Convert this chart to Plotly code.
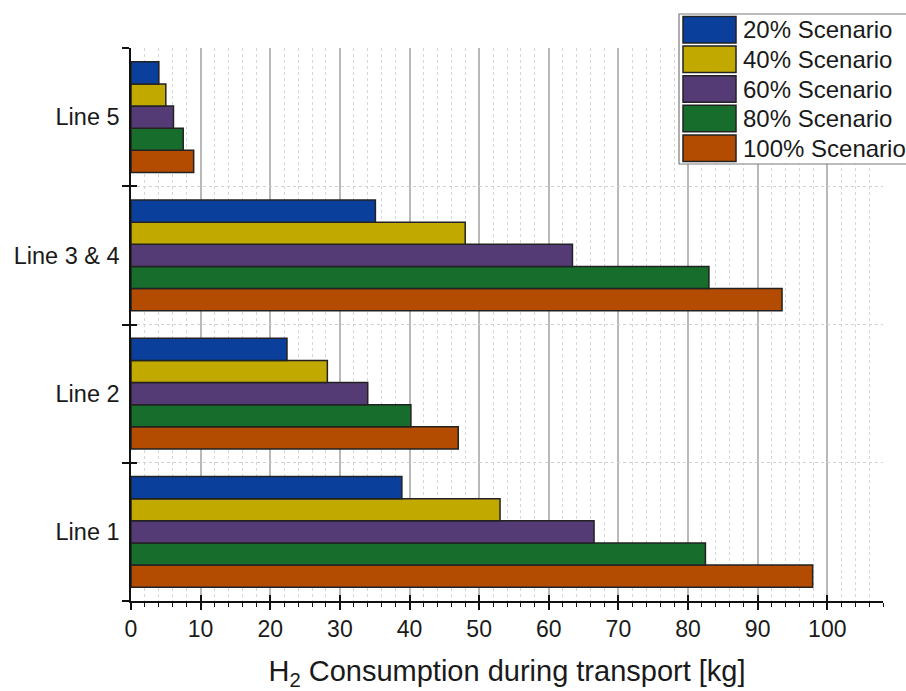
import plotly.graph_objects as go

# Transport lines (bottom to top)
lines = ["Line 1", "Line 2", "Line 3 & 4", "Line 5"]

# H2 consumption [kg] per scenario, ordered like `lines`
scenario_names = ["20% Scenario", "40% Scenario", "60% Scenario", "80% Scenario", "100% Scenario"]
s20 = [38.9, 22.4, 35.1, 4.0]
s40 = [53.0, 28.2, 48.0, 5.0]
s60 = [66.5, 34.0, 63.4, 6.1]
s80 = [82.5, 40.2, 83.0, 7.5]
s100 = [97.9, 47.0, 93.5, 9.0]
scenario_values = [s20, s40, s60, s80, s100]
scenario_colors = ["#0a3f9c", "#c2a900", "#553b75", "#166d2c", "#b34b00"]

x_ticks = list(range(0, 101, 10))

W, H = 906, 691
L, R, T, B = 131, 23, 48, 90
FONT = "Liberation Sans, Arial, sans-serif"
INK = "#1a1a1a"

fig = go.Figure()

# Add in reverse so the 20% bar sits on top within each group
for name, vals, col in reversed(list(zip(scenario_names, scenario_values, scenario_colors))):
    fig.add_trace(go.Bar(
        y=lines, x=vals, name=name, orientation="h",
        marker=dict(color=col, line=dict(color="#222222", width=1.5)),
        showlegend=False,
    ))

# Invisible trace to anchor the overlay axes used for crossing tick marks
fig.add_trace(go.Scatter(x=[0], y=[0], xaxis="x2", yaxis="y2", mode="markers",
                         marker=dict(opacity=0), showlegend=False, hoverinfo="skip"))

fig.update_layout(
    width=W, height=H,
    margin=dict(l=L, r=R, t=T, b=B, autoexpand=False),
    paper_bgcolor="white", plot_bgcolor="white",
    barmode="group", bargap=0.2, bargroupgap=0,
    font=dict(family=FONT, color=INK, size=23),
    xaxis=dict(
        range=[0, 108], tickvals=x_ticks, ticktext=[str(v) for v in x_ticks],
        showline=True, linecolor="#111111", linewidth=1.5,
        ticks="outside", ticklen=7, tickwidth=1.5, tickcolor="#111111",
        tickfont=dict(size=23, family=FONT, color=INK),
        showgrid=True, gridcolor="#b9b9b9", gridwidth=1.5,
        zeroline=False,
        minor=dict(dtick=2, tick0=0, ticks="outside", ticklen=4, tickwidth=1.2,
                   tickcolor="#111111", showgrid=True, gridcolor="#d6d6d6",
                   griddash="dot", gridwidth=1),
        title=dict(text="H<sub>2</sub> Consumption during transport [kg]",
                   font=dict(size=29, family=FONT, color=INK), standoff=20),
        automargin=False,
    ),
    yaxis=dict(
        categoryorder="array", categoryarray=lines,
        range=[-0.5, 3.5],
        showline=True, linecolor="#111111", linewidth=1.5,
        tickson="boundaries", ticks="outside", ticklen=7, tickwidth=1.5,
        tickcolor="#111111",
        tickfont=dict(size=23.5, family=FONT, color=INK),
        showgrid=True, gridcolor="#d0d0d0", griddash="dot", gridwidth=1,
        zeroline=False, automargin=False, ticklabelstandoff=5,
    ),
    xaxis2=dict(
        overlaying="x", anchor="y2", side="bottom", range=[0, 108],
        tickvals=x_ticks, showticklabels=False, ticks="inside", ticklen=6,
        tickwidth=1.5, tickcolor="#111111", showgrid=False, zeroline=False,
        showline=False,
    ),
    yaxis2=dict(
        overlaying="y", anchor="x2", side="left", range=[-0.5, 3.5],
        tickvals=[-0.5, 0.5, 1.5, 2.5, 3.5], showticklabels=False,
        ticks="inside", ticklen=6, tickwidth=1.5, tickcolor="#111111",
        showgrid=False, zeroline=False, showline=False,
    ),
)

# Legend drawn as large swatches in a framed box (pixel layout -> paper coords)
pw, ph = W - L - R, H - T - B


def px(xp):
    return (xp - L) / pw


def py(yp):
    return 1 - (yp - T) / ph


fig.add_shape(type="rect", xref="paper", yref="paper",
              x0=px(679), x1=px(912), y0=py(164), y1=py(14),
              line=dict(color="#7a7a7a", width=1.2), fillcolor="white", layer="above")
row_top, pitch = 16.5, 29.6
for i, (name, col) in enumerate(zip(scenario_names, scenario_colors)):
    y0 = row_top + i * pitch
    fig.add_shape(type="rect", xref="paper", yref="paper",
                  x0=px(683), x1=px(736), y0=py(y0 + 26.5), y1=py(y0),
                  line=dict(color="#222222", width=1.5), fillcolor=col, layer="above")
    fig.add_annotation(xref="paper", yref="paper", x=px(741), y=py(y0 + 13.5),
                       text=name, showarrow=False, xanchor="left", yanchor="middle",
                       font=dict(size=24, family=FONT, color=INK))

fig.write_html("out.html")
